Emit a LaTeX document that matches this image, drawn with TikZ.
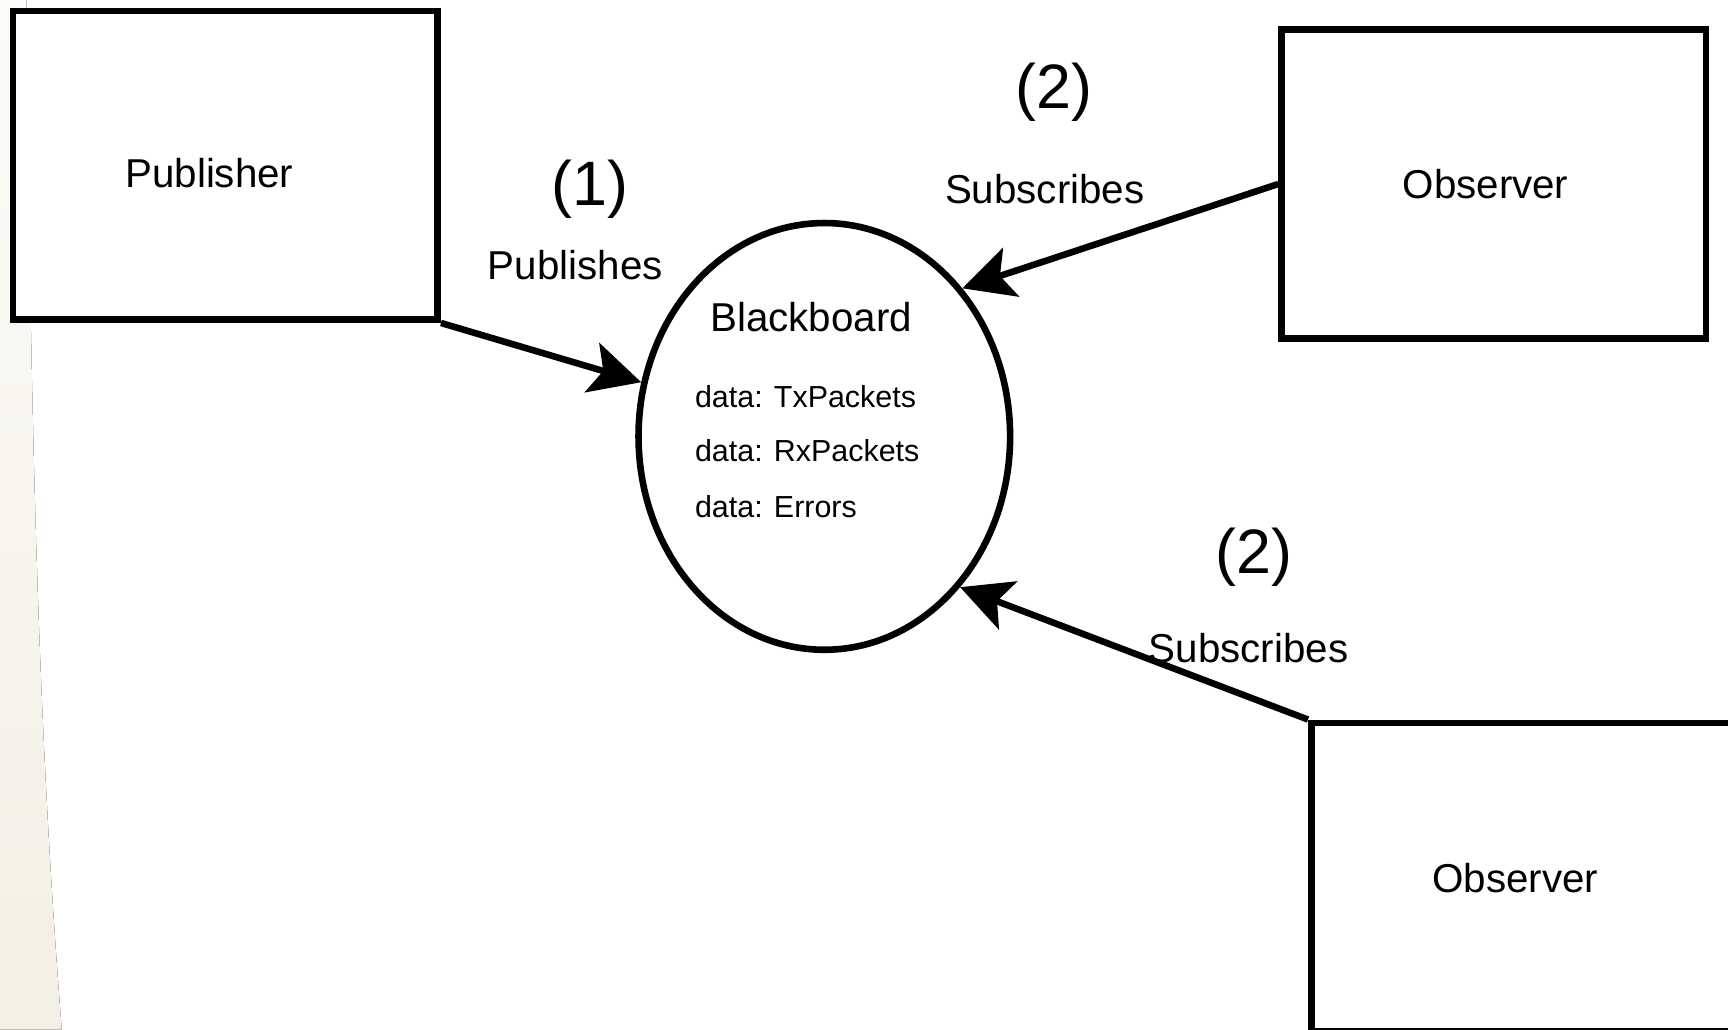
\documentclass[tikz,border=0pt]{standalone}
\usepackage{fontspec}
\setmainfont{Liberation Sans}
\usetikzlibrary{shapes.geometric,arrows.meta}
\definecolor{bgtop}{RGB}{252,251,248}
\definecolor{bgbottom}{RGB}{243,239,228}
\begin{document}
\begin{tikzpicture}[x=0.01cm,y=-0.01cm,
  boxstyle/.style={draw=black,line width=1.7pt,fill=white,inner sep=0pt,minimum width=3.85cm,minimum height=2.8cm},
  mainlabel/.style={inner sep=0pt,font=\fontsize{10.4pt}{12pt}\selectfont},
  numlabel/.style={inner sep=0pt,font=\fontsize{16.2pt}{19pt}\selectfont},
  datalabel/.style={inner sep=0pt,anchor=west,font=\fontsize{7.85pt}{9pt}\selectfont},
  arr/.style={line width=1.7pt,-{Stealth[length=13.2pt,width=13.2pt,inset=3pt]}}
]
\useasboundingbox (0,0) rectangle (1568,934);
\clip (0,0) rectangle (1568,934);
\fill[white] (0,0) rectangle (1568,934);
\fill[top color=bgtop, bottom color=bgbottom]
  (0,0) -- (24,0) .. controls (28,420) and (36,680) .. (56,934) -- (0,934) -- cycle;

\node[boxstyle] (pub) at (204.5,150) {};
\node[boxstyle] (obs1) at (1355.5,167) {};
\node[boxstyle] (obs2) at (1382.5,796) {};
\node[draw=black,line width=1.7pt,fill=white,ellipse,inner sep=0pt,minimum width=3.37cm,minimum height=3.87cm] (bb) at (748,396) {};

\node[mainlabel] (tpub) at (190,157) {Publisher};
\node[mainlabel] (tobs1) at (1348,167) {Observer};
\node[mainlabel] (tobs2) at (1375,797) {Observer};
\node[mainlabel] (tbb) at (736,288) {Blackboard};
\node[datalabel] (d1) at (630,360) {data: TxPackets};
\node[datalabel] (d2) at (630,409) {data: RxPackets};
\node[datalabel] (d3) at (630,460) {data: Errors};

\node[numlabel] (n1) at (535,172) {(1)};
\node[mainlabel] (l1) at (522,241) {Publishes};
\node[numlabel] (n2) at (956,84) {(2)};
\node[mainlabel] (l2) at (948,172) {Subscribes};
\node[numlabel] (n3) at (1138,506) {(2)};

\draw[arr] (pub.south east) -- (bb);
\draw[arr] (obs1.west) -- (bb.47.7);
\draw[arr] (obs2.north west) -- (bb.-48.8);

\node[mainlabel] (l3) at (1133,588) {Subscribes};
\end{tikzpicture}
\end{document}
